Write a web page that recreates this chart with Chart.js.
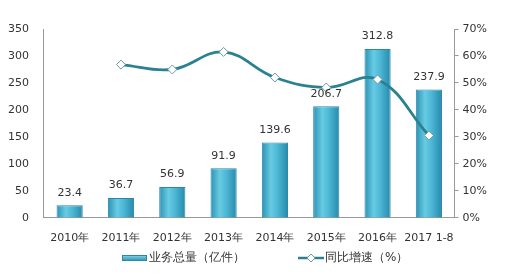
<!DOCTYPE html>
<html>
<head>
<meta charset="utf-8">
<script src="https://cdn.jsdelivr.net/npm/chart.js@4"></script>
<style>
  body { margin: 0; background: #fff; }
  canvas { display: block; }
</style>
</head>
<body>
<canvas id="chart" width="507" height="279"></canvas>
<script>
// ---- Data ----
const years = ['2010年', '2011年', '2012年', '2013年', '2014年', '2015年', '2016年', '2017 1-8'];
const volume = [23.4, 36.7, 56.9, 91.9, 139.6, 206.7, 312.8, 237.9];
const growth = [null, 56.8, 55.0, 61.5, 52.0, 48.3, 51.3, 30.5];
const volumeTicks = [0, 50, 100, 150, 200, 250, 300, 350];
const growthTicks = [0, 10, 20, 30, 40, 50, 60, 70];

const font = "'DejaVu Sans', Verdana, sans-serif";
Chart.defaults.font.family = font;
Chart.defaults.font.size = 11;
Chart.defaults.color = '#333';

const catPct = 0.85, barPct = 0.6;
const lineColor = '#2a8290';
const markerEdge = '#6a9aa4';

// gradient across each bar, light in the middle
function barFill(c) {
  const chart = c.chart;
  const xs = chart.scales.x;
  if (!xs || c.dataIndex === undefined) return '#3fa9c9';
  const cx = xs.getPixelForValue(c.dataIndex);
  const half = (xs.width / years.length) * catPct * barPct / 2;
  if (!isFinite(cx) || !isFinite(half) || half <= 0) return '#3fa9c9';
  const g = chart.ctx.createLinearGradient(cx - half, 0, cx + half, 0);
  g.addColorStop(0, '#2a92b4');
  g.addColorStop(0.35, '#68cbe3');
  g.addColorStop(0.6, '#4db7d5');
  g.addColorStop(1, '#2689ab');
  return g;
}

// values above bars
const barLabels = {
  id: 'barLabels',
  afterDatasetsDraw(chart) {
    const meta = chart.getDatasetMeta(1);
    const ctx = chart.ctx;
    ctx.save();
    ctx.font = '11px ' + font;
    ctx.fillStyle = '#333';
    ctx.textAlign = 'center';
    ctx.textBaseline = 'bottom';
    meta.data.forEach((bar, i) => {
      ctx.fillText(volume[i].toFixed(1), bar.x, bar.y - 7);
    });
    ctx.restore();
  }
};

// ---- Legend (drawn by hand, spaced like the original) ----
const bottomLegend = {
  id: 'bottomLegend',
  afterDraw(chart) {
    const ctx = chart.ctx;
    const y = 258;
    ctx.save();
    ctx.font = '12px ' + font;
    ctx.fillStyle = '#333';
    ctx.textBaseline = 'middle';

    // bar item
    let x = 122;
    const g = ctx.createLinearGradient(0, y - 3, 0, y + 3);
    g.addColorStop(0, '#8ad8ea');
    g.addColorStop(1, '#2b8fb0');
    ctx.fillStyle = g;
    ctx.fillRect(x, y - 3, 25, 6);
    ctx.strokeStyle = '#2a88a8';
    ctx.lineWidth = 1;
    ctx.strokeRect(x + 0.5, y - 2.5, 24, 5);
    ctx.fillStyle = '#333';
    ctx.fillText(chart.data.datasets[1].label, x + 27, y);

    // line item
    x = 298;
    ctx.strokeStyle = lineColor;
    ctx.lineWidth = 2.5;
    ctx.beginPath(); ctx.moveTo(x, y); ctx.lineTo(x + 26, y); ctx.stroke();
    ctx.fillStyle = '#fff';
    ctx.strokeStyle = markerEdge;
    ctx.lineWidth = 1;
    ctx.beginPath();
    ctx.moveTo(x + 13, y - 4); ctx.lineTo(x + 17, y); ctx.lineTo(x + 13, y + 4); ctx.lineTo(x + 9, y);
    ctx.closePath(); ctx.fill(); ctx.stroke();
    ctx.fillStyle = '#333';
    ctx.fillText(chart.data.datasets[0].label, x + 27, y);
    ctx.restore();
  }
};

new Chart(document.getElementById('chart'), {
  data: {
    labels: years,
    datasets: [
      {
        type: 'line',
        label: '同比增速（%）',
        data: growth,
        yAxisID: 'y1',
        order: 0,
        borderColor: lineColor,
        borderWidth: 2.8,
        tension: 0.4,
        pointStyle: 'rectRot',
        pointRadius: 4.5,
        pointBackgroundColor: '#fff',
        pointBorderColor: markerEdge,
        pointBorderWidth: 1
      },
      {
        type: 'bar',
        label: '业务总量（亿件）',
        data: volume,
        yAxisID: 'y',
        order: 1,
        backgroundColor: barFill,
        borderColor: '#2a88a8',
        borderWidth: 1,
        categoryPercentage: catPct,
        barPercentage: barPct
      }
    ]
  },
  options: {
    responsive: false,
    animation: false,
    layout: { padding: { top: 29, left: 1, right: 16, bottom: 28 } },
    scales: {
      x: {
        grid: { display: false },
        border: { color: '#999' },
        ticks: { color: '#333', padding: 6, maxRotation: 0, autoSkip: false }
      },
      y: {
        position: 'left',
        min: 0, max: 350,
        afterBuildTicks: s => { s.ticks = volumeTicks.map(v => ({ value: v })); },
        grid: { display: false },
        border: { color: '#999' },
        ticks: { color: '#333', padding: 7 }
      },
      y1: {
        position: 'right',
        min: 0, max: 70,
        afterBuildTicks: s => { s.ticks = growthTicks.map(v => ({ value: v })); },
        grid: { drawOnChartArea: false, tickLength: 4, color: '#999' },
        border: { color: '#999' },
        ticks: { color: '#333', padding: 4, callback: v => v + '%' }
      }
    },
    plugins: {
      tooltip: { enabled: false },
      legend: { display: false }
    }
  },
  plugins: [barLabels, bottomLegend]
});
</script>
</body>
</html>
